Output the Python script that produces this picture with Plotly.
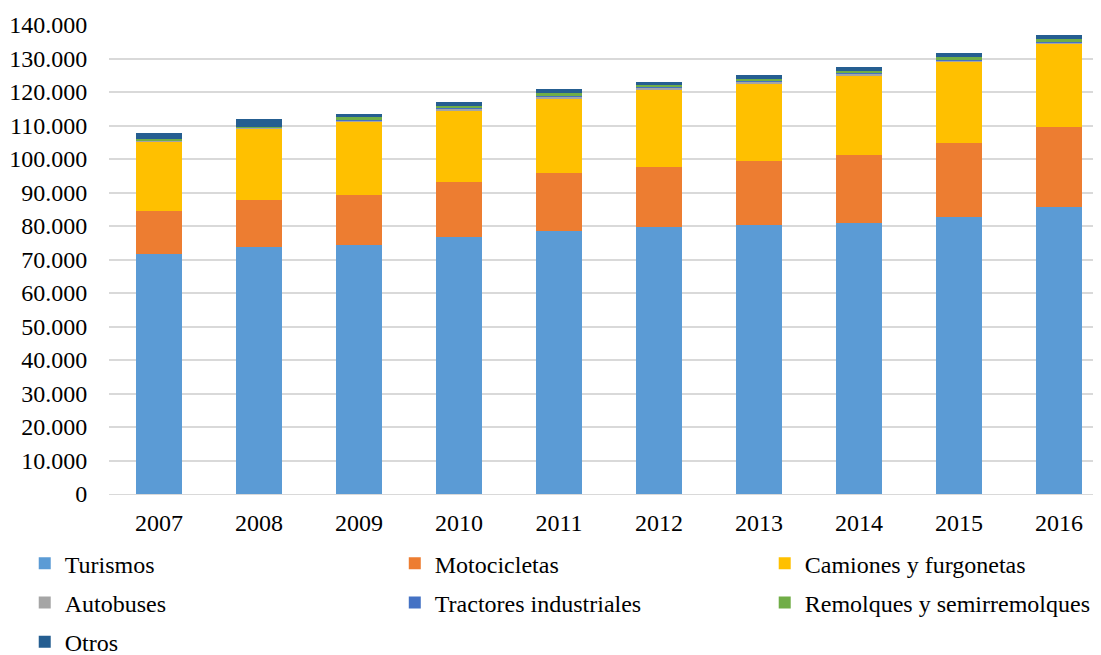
import plotly.graph_objects as go

# Años
years = ["2007", "2008", "2009", "2010", "2011", "2012", "2013", "2014", "2015", "2016"]

# Parque de vehículos por tipo
turismos = [71600, 73600, 74200, 76600, 78600, 79800, 80400, 81000, 82800, 85600]
motocicletas = [13000, 14300, 15200, 16400, 17300, 17900, 19100, 20300, 22100, 24000]
camiones = [20600, 21300, 21600, 21600, 22300, 22800, 23100, 23600, 24200, 24800]
autobuses = [250, 200, 600, 500, 400, 700, 400, 600, 400, 500]
tractores = [150, 100, 150, 150, 150, 150, 150, 150, 150, 150]
remolques = [300, 200, 700, 700, 900, 700, 700, 600, 900, 900]
otros = [1800, 2100, 1000, 1100, 1100, 1000, 1200, 1100, 1100, 1200]

# nombre, valores, color, columna de la leyenda
series = [
    ("Turismos", turismos, "#5B9BD5", "legend"),
    ("Motocicletas", motocicletas, "#ED7D31", "legend2"),
    ("Camiones y furgonetas", camiones, "#FFC000", "legend3"),
    ("Autobuses", autobuses, "#A5A5A5", "legend"),
    ("Tractores industriales", tractores, "#4472C4", "legend2"),
    ("Remolques y semirremolques", remolques, "#70AD47", "legend3"),
    ("Otros", otros, "#255E91", "legend"),
]

FONT = "Liberation Serif, Times New Roman, serif"
tfont = dict(family=FONT, size=24, color="black")

fig = go.Figure()
for name, vals, color, leg in series:
    fig.add_trace(go.Bar(x=years, y=vals, name=name, marker_color=color,
                         marker_line_width=0, legend=leg, legendgroup=name))

# la página añade ~8px de margen, se compensa en las posiciones
leg_common = dict(orientation="v", yref="container", y=0.186, yanchor="top",
                  xref="container", xanchor="left", traceorder="grouped",
                  itemwidth=30, font=tfont, tracegroupgap=5,
                  bgcolor="rgba(0,0,0,0)")

fig.update_layout(
    barmode="stack",
    bargap=0.543,
    width=1101, height=655,
    margin=dict(l=101, r=0, t=17, b=169, autoexpand=False),
    plot_bgcolor="white",
    paper_bgcolor="white",
    separators=",.",
    font=tfont,
    xaxis=dict(range=[-0.5, 9.5], showgrid=False, showline=True,
               linecolor="#d9d9d9", linewidth=1, automargin=False,
               ticks="outside", ticklen=7, tickcolor="rgba(0,0,0,0)",
               tickfont=tfont),
    yaxis=dict(range=[0, 140000], dtick=10000, tickformat=",d",
               showgrid=True, gridcolor="#d9d9d9", gridwidth=1.5,
               zeroline=False, automargin=False, ticks="outside", ticklen=16,
               tickcolor="rgba(0,0,0,0)", tickfont=tfont),
    legend=dict(x=0.0152, **leg_common),
    legend2=dict(x=0.3513, **leg_common),
    legend3=dict(x=0.6873, **leg_common),
)

fig.write_html("out.html")
